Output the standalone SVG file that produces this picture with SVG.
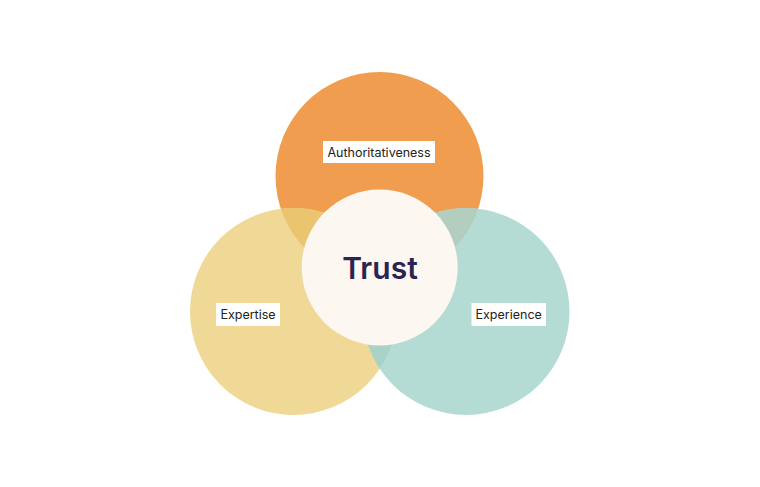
<svg xmlns="http://www.w3.org/2000/svg" width="760" height="487" viewBox="0 0 760 487">
  <style>
    .lbl { font-family: Inter, "DejaVu Sans", sans-serif; font-size: 12.5px; fill: #222222; text-anchor: middle; dominant-baseline: central; }
    .box { fill: #ffffff; }
    .trust { font-family: Inter, "DejaVu Sans", sans-serif; font-size: 30px; font-weight: 600; fill: #2B2452; text-anchor: middle; dominant-baseline: central; }
  </style>
  <defs>
    <clipPath id="clipO"><circle cx="379.5" cy="176" r="104"/></clipPath>
    <clipPath id="clipY"><circle cx="293.5" cy="311.5" r="103.5"/></clipPath>
  </defs>
  <rect width="760" height="487" fill="#ffffff"/>
  <g id="authoritativeness">
    <circle cx="379.5" cy="176" r="104" fill="#F09D4F"/>
  </g>
  <g id="expertise">
    <circle cx="293.5" cy="311.5" r="103.5" fill="#F0D996"/>
    <circle cx="293.5" cy="311.5" r="103.5" fill="#EAC46E" clip-path="url(#clipO)"/>
  </g>
  <g id="experience">
    <circle cx="466" cy="311.5" r="103.5" fill="#B4DCD4"/>
    <circle cx="466" cy="311.5" r="103.5" fill="#B3CDBF" clip-path="url(#clipO)"/>
    <circle cx="466" cy="311.5" r="103.5" fill="#A8D3C6" clip-path="url(#clipY)"/>
  </g>
  <g id="trust">
    <circle cx="379.7" cy="267.5" r="78" fill="#FCF7F0"/>
    <text class="trust" x="380" y="267.5">Trust</text>
  </g>
  <g id="label-authoritativeness">
    <rect class="box" x="323" y="141" width="112" height="22"/>
    <text class="lbl" x="379" y="152">Authoritativeness</text>
  </g>
  <g id="label-expertise">
    <rect class="box" x="216" y="303" width="64" height="23"/>
    <text class="lbl" x="248" y="314.5">Expertise</text>
  </g>
  <g id="label-experience">
    <rect class="box" x="471.5" y="303" width="74.5" height="23"/>
    <text class="lbl" x="508.7" y="314.5">Experience</text>
  </g>
  <g id="connectors"></g>
</svg>
